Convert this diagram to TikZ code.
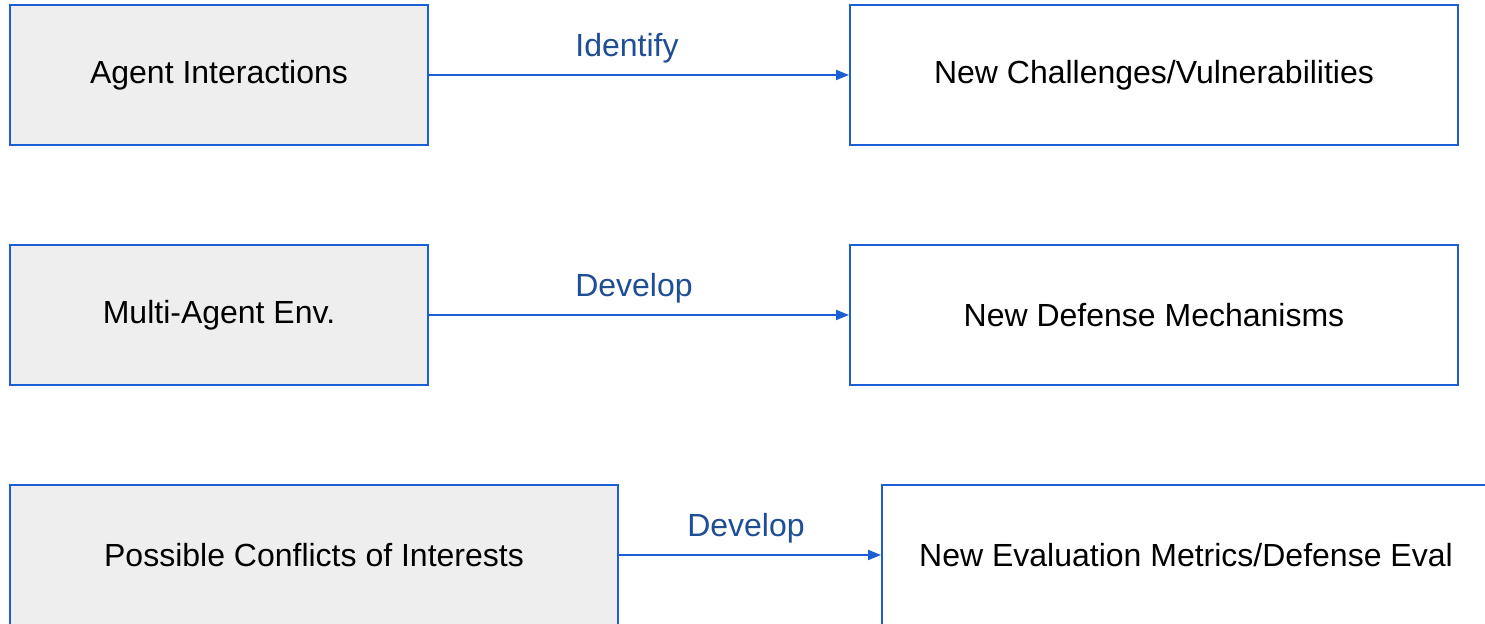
\documentclass[tikz,border=0pt]{standalone}
\usepackage{fontspec}
\setmainfont{Liberation Sans}
\usetikzlibrary{arrows.meta}
\definecolor{boxblue}{HTML}{1C5FD4}
\definecolor{labelblue}{HTML}{1F4E96}
\definecolor{boxgray}{HTML}{EEEEEE}
\begin{document}
\begin{tikzpicture}[x=0.5pt,y=-0.5pt,
    causebox/.style={draw=boxblue, fill=boxgray, line width=1pt, minimum height=70pt, inner sep=0pt, font=\fontsize{16}{19}\selectfont},
    resultbox/.style={draw=boxblue, fill=white, line width=1pt, minimum height=70pt, inner sep=0pt, font=\fontsize{16}{19}\selectfont},
    flow/.style={draw=boxblue, line width=1pt, -{Triangle[length=6.5pt,width=5pt]}},
    flowlabel/.style={text=labelblue, inner sep=0pt, font=\fontsize{16}{19}\selectfont}]
    \useasboundingbox (0,0) rectangle (1485,624);
    \clip (0,0) rectangle (1485,624);
    \node[causebox, minimum width=209pt] (agent) at (219,75) {Agent Interactions};
    \node[resultbox, minimum width=304pt] (challenge) at (1154,75) {New Challenges/Vulnerabilities};
    \node[causebox, minimum width=209pt] (multi) at (219,315) {Multi-Agent Env.};
    \node[resultbox, minimum width=304pt] (defense) at (1154,315) {New Defense Mechanisms};
    \node[causebox, minimum width=304pt] (conflict) at (314,555) {Possible Conflicts of Interests};
    \node[resultbox, minimum width=304pt] (metric) at (1186,555) {New Evaluation Metrics/Defense Eval};
    \draw[flow] (agent) -- (challenge) node[flowlabel, midway, above=5.5pt, xshift=-6pt] {Identify};
    \draw[flow] (multi) -- (defense) node[flowlabel, midway, above=5.5pt, xshift=-2.5pt] {Develop};
    \draw[flow] (conflict) -- (metric) node[flowlabel, midway, above=5.5pt, xshift=-2pt] {Develop};
\end{tikzpicture}
\end{document}
